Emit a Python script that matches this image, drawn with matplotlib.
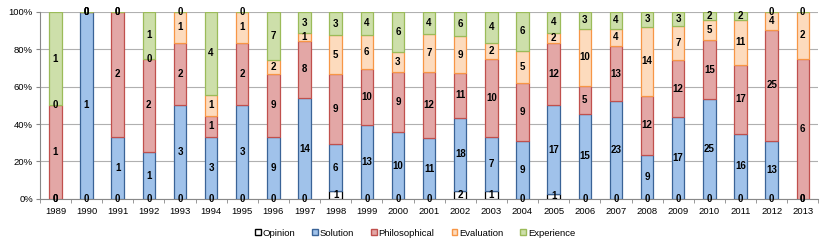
import numpy as np
import matplotlib
matplotlib.use("Agg")
import matplotlib.pyplot as plt
from matplotlib.patches import Patch
from matplotlib.ticker import FixedLocator, PercentFormatter

plt.rcParams['font.family'] = ['Liberation Sans', 'DejaVu Sans']

years = [str(y) for y in range(1989, 2014)]
opinion =       [0,0,0,0,0,0,0,0,0,1,0,0,0,2,1,0,1,0,0,0,0,0,0,0,0]
solution =      [0,1,1,1,3,3,3,9,14,6,13,10,11,18,7,9,17,15,23,9,17,25,16,13,0]
philosophical = [1,0,2,2,2,1,2,9,8,9,10,9,12,11,10,9,12,5,13,12,12,15,17,25,6]
evaluation =    [0,0,0,0,1,1,1,2,1,5,6,3,7,9,2,5,2,10,4,14,7,5,11,4,2]
experience =    [1,0,0,1,0,4,0,7,3,3,4,6,4,6,4,6,4,3,4,3,3,2,2,0,0]

series_names = ["Opinion", "Solution", "Philosophical", "Evaluation", "Experience"]
series = [opinion, solution, philosophical, evaluation, experience]
fills = ["#FFFFFF", "#A0C2EA", "#E3A7A6", "#FDDBBD", "#CDDFAA"]
edges = ["#000000", "#3A6397", "#C0504D", "#F79646", "#9BBB59"]

fig = plt.figure(figsize=(8.3, 2.48), dpi=100)
ax = fig.add_axes([0.048, 0.198, 0.938, 0.754])

data = np.array(series, dtype=float)
totals = data.sum(axis=0)
pct = data / totals * 100
x = np.arange(len(years))
bottom = np.zeros(len(years))
for name, vals, raw, fc, ec in zip(series_names, pct, series, fills, edges):
    ax.bar(x, vals, 0.4, bottom=bottom, color=fc, edgecolor=ec, linewidth=0.9, zorder=3, label=name)
    for xi, b, v, r in zip(x, bottom, vals, raw):
        ax.text(xi, b + v / 2, str(r), ha='center', va='center', fontsize=7,
                fontweight='bold', color='black', zorder=5)
    bottom = bottom + vals

ax.set_xlim(-0.5, len(years) - 0.5)
ax.set_ylim(0, 100)
ax.set_yticks(np.arange(0, 101, 20))
ax.yaxis.set_major_formatter(PercentFormatter(decimals=0))
ax.set_xticks(x)
ax.set_xticklabels(years)
ax.xaxis.set_minor_locator(FixedLocator(np.arange(-0.5, len(years), 1)))
ax.tick_params(axis='x', which='major', length=0, labelsize=6.8, pad=6)
ax.tick_params(axis='x', which='minor', length=3, color='#888888', direction='out')
ax.tick_params(axis='y', length=3, color='#888888', labelsize=6.8, pad=2)
ax.grid(axis='y', color='#B0B0B0', linewidth=0.8, zorder=0)
for s in ['top', 'right']:
    ax.spines[s].set_visible(False)
ax.spines['left'].set_color('#888888')
ax.spines['bottom'].set_color('#888888')

handles = [Patch(facecolor=fc, edgecolor=ec, linewidth=1.0) for fc, ec in zip(fills, edges)]
fig.legend(handles, series_names, loc='center', bbox_to_anchor=(0.5, 0.06), ncol=5,
           frameon=False, fontsize=6.8, handlelength=0.6, handleheight=0.6,
           handletextpad=0.2, columnspacing=1.8)

fig.savefig("out.png", dpi=100)
